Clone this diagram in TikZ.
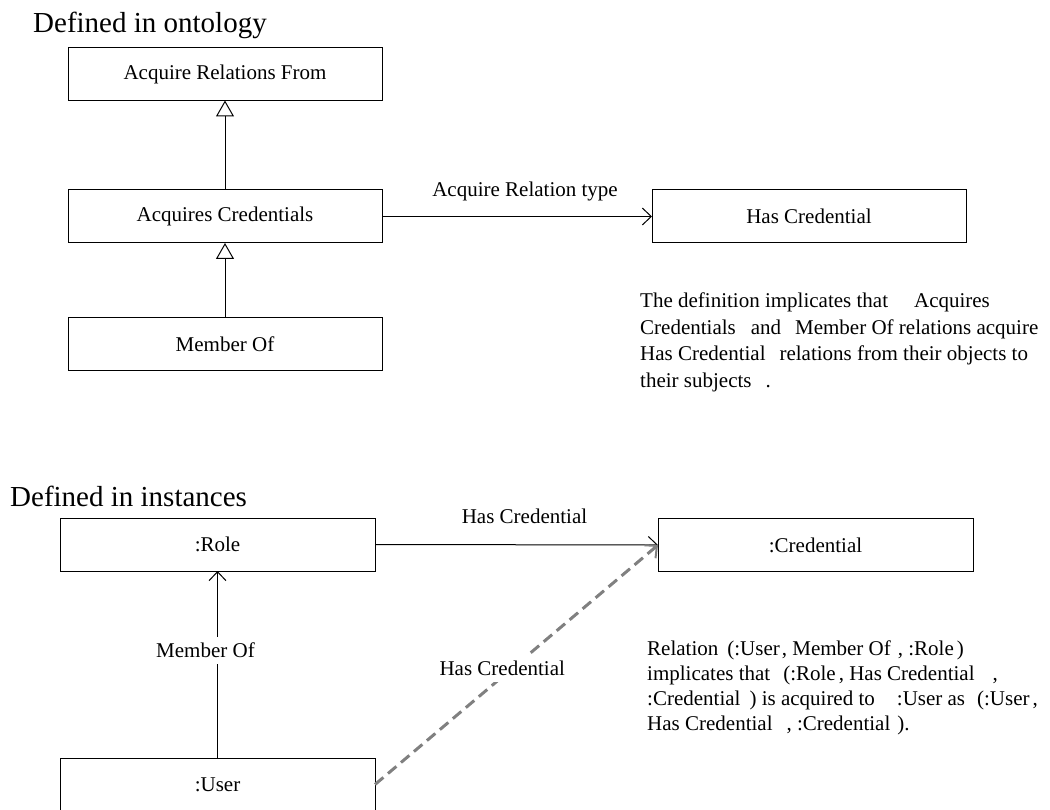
\documentclass[tikz,border=0pt]{standalone}
\usepackage{fontspec}
\setmainfont{Liberation Serif}
\usetikzlibrary{arrows.meta}
\definecolor{dashgray}{RGB}{128,128,128}
% explicit horizontal gap between text runs
\newcommand\txtgap[1]{\hspace{#1pt}}

\begin{document}
\begin{tikzpicture}[x=1pt,y=-1pt,
  umlbox/.style={draw, line width=1pt, minimum width=314pt, minimum height=53pt,
    inner sep=0pt, outer sep=0pt, font=\fontsize{21}{25}\selectfont},
  link/.style={line width=1pt, -{Straight Barb[length=9pt,width=17pt,line width=1pt]}},
  inherit/.style={line width=1pt, -{Triangle[open,length=16pt,width=18pt,line width=1pt]}},
  lbl/.style={font=\fontsize{21}{25}\selectfont, inner sep=2pt},
  heading/.style={font=\fontsize{29}{34}\selectfont, inner sep=0pt, anchor=base west},
  note/.style={font=\fontsize{21}{#1}\selectfont, align=left, inner sep=0pt, anchor=north west},
]
\useasboundingbox (0,0) rectangle (1050,810);

% ---------- ontology level ----------
\node[heading] (h1) at (33,33) {Defined in ontology};

\node[umlbox] (arf) at (225,74)    {Acquire Relations From};
\node[umlbox] (ac)  at (225,216.5) {Acquires Credentials};
\node[umlbox] (hc)  at (809,216.5) {Has Credential};
\node[umlbox] (mo)  at (225,344.5) {Member Of};

\draw[inherit] (ac.north) -- (arf.south);
\draw[inherit] (mo.north) -- (ac.south);
\draw[link] (ac.east) -- node[lbl, anchor=base, yshift=20pt, xshift=8pt] {Acquire Relation type} (hc.west);

\node[note=26.5] (n1) at (640,293) {The definition implicates that\txtgap{26}Acquires\\
Credentials\txtgap{15}and\txtgap{14}Member Of relations acquire\\
Has Credential\txtgap{14}relations from their objects to\\
their subjects\txtgap{14}.};

% ---------- instance level ----------
\node[heading] (h2) at (10,506) {Defined in instances};

\node[umlbox, minimum width=315pt] (role) at (217.5,544.5) {:Role};
\node[umlbox, minimum width=315pt] (cred) at (815.5,545)   {:Credential};
\node[umlbox, minimum width=315pt] (user) at (217.5,784.5) {:User};

\draw[link] (role.east) -- node[lbl, anchor=base, yshift=21pt, xshift=8pt] {Has Credential} (cred.west);
\draw[link] (user.north) -- node[lbl, fill=white, inner ysep=6pt, pos=0.5775, xshift=-12pt] {Member Of} (role.south);
\draw[dashgray, line width=3pt, dash pattern=on 11pt off 6pt,
      -{Straight Barb[length=9pt,width=17pt,line width=2pt]}]
  (user.east) -- node[lbl, text=black, fill=white, inner ysep=6pt, pos=0.485, xshift=-10pt] {Has Credential} (cred.west);

\node[note=25] (n2) at (647,640.5) {Relation\txtgap{9}(:User\txtgap{2}, Member Of\txtgap{7}, :Role\txtgap{3})\\
implicates that\txtgap{13}(:Role\txtgap{3}, Has Credential\txtgap{18},\\
:Credential\txtgap{9}) is acquired to\txtgap{22}:User as\txtgap{12}(:User\txtgap{3},\\
Has Credential\txtgap{14}, :Credential\txtgap{7}).};
\end{tikzpicture}
\end{document}
